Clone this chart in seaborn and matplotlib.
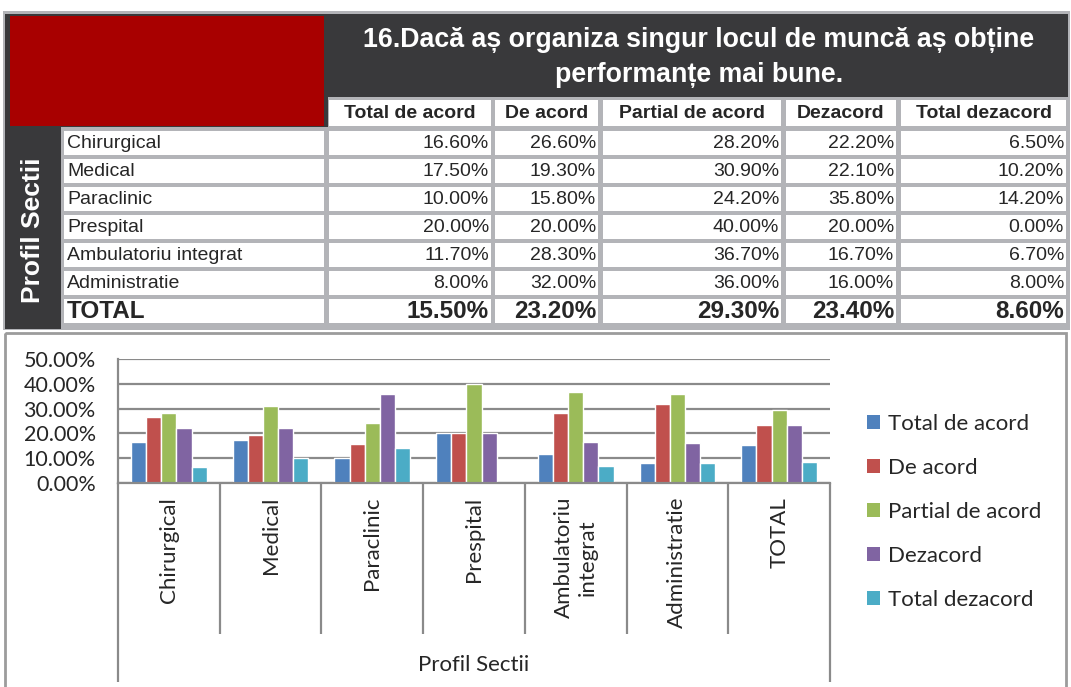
import numpy as np
import pandas as pd
import matplotlib
matplotlib.use("Agg")
import matplotlib.pyplot as plt
from matplotlib.patches import Rectangle, Patch
from matplotlib.ticker import PercentFormatter
import seaborn as sns

# date din tabel (procente)
sectii = ["Chirurgical", "Medical", "Paraclinic", "Prespital", "Ambulatoriu integrat", "Administratie"]
raspunsuri = ["Total de acord", "De acord", "Partial de acord", "Dezacord", "Total dezacord"]
total_de_acord = [16.6, 17.5, 10.0, 20.0, 11.7, 8.0]
de_acord = [26.6, 19.3, 15.8, 20.0, 28.3, 32.0]
partial_de_acord = [28.2, 30.9, 24.2, 40.0, 36.7, 36.0]
dezacord = [22.2, 22.1, 35.8, 20.0, 16.7, 16.0]
total_dezacord = [6.5, 10.2, 14.2, 0.0, 6.7, 8.0]
rand_total = [15.5, 23.2, 29.3, 23.4, 8.6]
etichete_grafic = ["Chirurgical", "Medical", "Paraclinic", "Prespital",
                   "Ambulatoriu\nintegrat", "Administratie", "TOTAL"]
titlu = "16.Dacă aș organiza singur locul de muncă aș obține\nperformanțe mai bune."
culori = ["#4F81BD", "#C0504D", "#9BBB59", "#8064A2", "#4BACC6"]

sns.set_style("white")
plt.rcParams["font.family"] = ["Lato", "DejaVu Sans"]
ARIAL = ["Liberation Sans", "DejaVu Sans"]

W, H = 1071, 687
fig = plt.figure(figsize=(W / 100, H / 100), dpi=100)

# fundal in coordonate pixel (tabel + cadru grafic)
bg = fig.add_axes([0, 0, 1, 1])
bg.set_xlim(0, W)
bg.set_ylim(H, 0)
bg.axis("off")


def rect(x0, y0, x1, y1, color):
    bg.add_patch(Rectangle((x0, y0), x1 - x0, y1 - y0, facecolor=color, edgecolor="none"))


GRI = "#b3b4b8"
INCHIS = "#39393b"
rect(3, 11, 1070, 330, GRI)
rect(5, 14, 1068, 97, INCHIS)
rect(5, 14, 328, 127, INCHIS)
rect(5, 14, 61, 329, INCHIS)
rect(10, 16, 324, 126, "#a80000")

bg.text(699, 57.5, titlu, color="white", fontsize=19.3, fontweight="bold", family=ARIAL,
        ha="center", va="center", linespacing=1.45)
bg.text(33, 230, "Profil Sectii", color="white", fontsize=19, fontweight="bold",
        family=ARIAL, rotation=90, ha="center", va="center")

coloane = [(64, 324), (329, 491), (495, 598), (603, 781), (786, 896), (901, 1066)]

# antet
for (x0, x1), nume in zip(coloane[1:], raspunsuri):
    rect(x0, 100, x1, 126, "white")
    bg.text((x0 + x1) / 2, 113.5, nume, fontsize=14, fontweight="bold", family=ARIAL,
            ha="center", va="center")

valori = np.array([total_de_acord, de_acord, partial_de_acord, dezacord, total_dezacord]).T
randuri = [(s, list(v)) for s, v in zip(sectii, valori)] + [("TOTAL", rand_total)]
for i, (nume, vals) in enumerate(randuri):
    y0 = 130.5 + 28 * i
    y1 = y0 + 24
    ym = (y0 + y1) / 2 + 0.5
    bold = nume == "TOTAL"
    fs = 17.5 if bold else 14
    fw = "bold" if bold else "normal"
    for x0, x1 in coloane:
        rect(x0, y0, x1, y1, "white")
    bg.text(coloane[0][0] + 3, ym, nume, fontsize=fs, fontweight=fw, family=ARIAL,
            ha="left", va="center")
    for (x0, x1), v in zip(coloane[1:], vals):
        bg.text(x1 - 2, ym, f"{v:.2f}%", fontsize=fs, fontweight=fw, family=ARIAL,
                ha="right", va="center")

# cadru grafic
bg.add_patch(Rectangle((5, 333), 1061, 360, fill=False, edgecolor="#9c9c9c", lw=2))

# grafic
df = pd.DataFrame({
    "Sectie": np.repeat(etichete_grafic, len(raspunsuri)),
    "Raspuns": raspunsuri * len(etichete_grafic),
    "Procent": np.array(list(valori) + [rand_total]).ravel() / 100,
})

ax = fig.add_axes([118 / W, (H - 483) / H, (830 - 118) / W, (483 - 359) / H])
ax.patch.set_alpha(0)
sns.barplot(data=df, x="Sectie", y="Procent", hue="Raspuns", palette=culori,
            saturation=1, width=0.745, gap=0, ax=ax, legend=False, errorbar=None)

AX_GRI = "#8a8a8a"
ax.set_ylim(0, 0.5)
ax.set_xlim(-0.5, len(etichete_grafic) - 0.5)
ax.set_yticks(np.arange(0, 0.51, 0.1))
ax.yaxis.set_major_formatter(PercentFormatter(xmax=1, decimals=2))
ax.grid(axis="y", color=AX_GRI, lw=1.6)
ax.grid(axis="x", visible=False)
ax.set_axisbelow(True)
for s in ["top", "right"]:
    ax.spines[s].set_visible(False)
for s in ["left", "bottom"]:
    ax.spines[s].set_color(AX_GRI)
    ax.spines[s].set_linewidth(1.6)
ax.tick_params(axis="y", length=6, width=1.6, color=AX_GRI, labelsize=15.5, pad=10)
ax.tick_params(axis="x", length=0, labelsize=16, pad=10, labelrotation=90)
for lbl in ax.get_xticklabels():
    lbl.set_multialignment("center")
ax.set_ylabel("")
ax.set_xlabel("Profil Sectii", fontsize=16)
ax.xaxis.set_label_coords(0.5, (483 - 665) / 124)
ax.xaxis.label.set_va("center")

tr = ax.get_xaxis_transform()
ax.vlines(np.arange(0.5, len(etichete_grafic) - 1, 1), (483 - 634) / 124, 0,
          transform=tr, color=AX_GRI, lw=1.6, clip_on=False)
ax.vlines([-0.5, len(etichete_grafic) - 0.5], (483 - 682) / 124, 0,
          transform=tr, color=AX_GRI, lw=1.6, clip_on=False)

handles = [Patch(facecolor=c, edgecolor="none") for c in culori]
fig.legend(handles, raspunsuri, loc="center left", bbox_to_anchor=(867 / W, (H - 512) / H),
           frameon=False, fontsize=16, handlelength=0.6, handleheight=0.6,
           handletextpad=0.35, labelspacing=1.08, borderaxespad=0, borderpad=0)

fig.savefig("out.png", dpi=100)
